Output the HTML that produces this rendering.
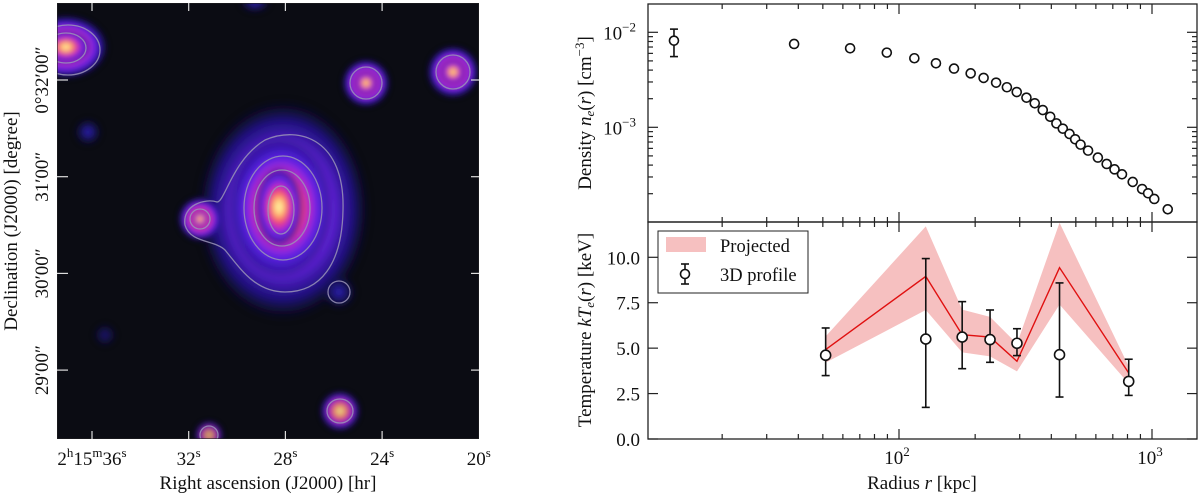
<!DOCTYPE html>
<html><head><meta charset="utf-8">
<style>
html,body{margin:0;padding:0;background:#fff;}
svg{display:block;font-family:"Liberation Serif",serif;}
</style></head>
<body>
<svg id="fig" width="1200" height="496" viewBox="0 0 1200 496">
<defs>
  <radialGradient id="src" cx="50%" cy="50%" r="50%">
    <stop offset="0" stop-color="#fffbb0"/>
    <stop offset="0.14" stop-color="#ffe08a"/>
    <stop offset="0.26" stop-color="#ff9a6a"/>
    <stop offset="0.4" stop-color="#f03d78"/>
    <stop offset="0.55" stop-color="#b52ad0"/>
    <stop offset="0.72" stop-color="#5a22e6"/>
    <stop offset="0.88" stop-color="#2412a0" stop-opacity="0.7"/>
    <stop offset="1" stop-color="#10102a" stop-opacity="0"/>
  </radialGradient>
  <radialGradient id="glow" cx="50%" cy="50%" r="50%">
    <stop offset="0" stop-color="#ff6a70"/>
    <stop offset="0.3" stop-color="#d030c0"/>
    <stop offset="0.55" stop-color="#6a24e8"/>
    <stop offset="0.8" stop-color="#2814b0" stop-opacity="0.7"/>
    <stop offset="1" stop-color="#10102a" stop-opacity="0"/>
  </radialGradient>
  <radialGradient id="faint" cx="50%" cy="50%" r="50%">
    <stop offset="0" stop-color="#3020c0"/>
    <stop offset="0.6" stop-color="#1a1470" stop-opacity="0.6"/>
    <stop offset="1" stop-color="#10102a" stop-opacity="0"/>
  </radialGradient>
  <filter id="soft" x="-20%" y="-20%" width="140%" height="140%"><feGaussianBlur stdDeviation="3"/></filter>
  <clipPath id="imgclip"><rect x="57" y="3" width="422" height="436"/></clipPath>
  <clipPath id="botclip"><rect x="648" y="222" width="549" height="217"/></clipPath>
  <clipPath id="topclip"><rect x="648" y="4" width="549" height="218"/></clipPath>
</defs>

<g clip-path="url(#imgclip)">
  <rect x="57" y="3" width="422" height="436" fill="#0b0c13"/>
  <g filter="url(#soft)">
  <ellipse cx="283" cy="210" rx="88" ry="112" fill="url(#glow)" opacity="0.95"/>
  <ellipse cx="281" cy="208" rx="52" ry="70" fill="url(#src)"/>
  <ellipse cx="279" cy="207" rx="24" ry="40" fill="url(#src)"/>
  <ellipse cx="66" cy="47" rx="42" ry="32" fill="url(#src)"/>
  <ellipse cx="66" cy="47" rx="24" ry="17" fill="url(#src)"/>
  <circle cx="366" cy="83" r="24" fill="url(#src)"/>
  <circle cx="366" cy="83" r="12" fill="url(#src)"/>
  <circle cx="453" cy="72" r="26" fill="url(#src)"/>
  <circle cx="453" cy="72" r="13" fill="url(#src)"/>
  <circle cx="200" cy="219" r="22" fill="url(#src)"/>
  <circle cx="200" cy="219" r="9" fill="url(#src)"/>
  <circle cx="340" cy="411" r="20" fill="url(#src)" opacity="0.9"/>
  <circle cx="209" cy="435" r="14" fill="url(#src)" opacity="0.8"/>
  <circle cx="339" cy="292" r="18" fill="url(#faint)"/>
  <circle cx="88" cy="132" r="14" fill="url(#faint)"/>
  <circle cx="105" cy="335" r="12" fill="url(#faint)" opacity="0.6"/>
  <ellipse cx="255" cy="3" rx="16" ry="10" fill="url(#faint)"/>
  </g>
  <g fill="none" stroke="#9a94b8" stroke-width="1.3" opacity="0.85">
    <path d="M217,202 C225,202 232,160 265,140 C300,125 345,140 343,210 C342,265 320,292 285,292 C255,292 240,268 225,250 C215,240 190,243 185,225 C182,205 205,198 217,202 Z"/>
    <ellipse cx="283" cy="208" rx="39" ry="52"/>
    <ellipse cx="282" cy="208" rx="28" ry="38"/>
    <ellipse cx="281" cy="210" rx="13" ry="24"/>
    <circle cx="339" cy="292" r="11"/>
    <ellipse cx="68" cy="50" rx="32" ry="25"/>
    <ellipse cx="66" cy="48" rx="20" ry="15"/>
    <circle cx="366" cy="83" r="16"/>
    <circle cx="453" cy="72" r="17"/>
    <circle cx="200" cy="219" r="10"/>
    <ellipse cx="340" cy="411" rx="13" ry="12"/>
    <circle cx="209" cy="435" r="9"/>
  </g>
  <rect x="57" y="3" width="422" height="436" fill="none" stroke="#222" stroke-width="1.2"/>
</g>
<g id="leftticks" stroke="#ddd" stroke-width="1.2"></g>
<g id="leftlabels" font-size="19" fill="#111"></g>
<text x="268" y="489" font-size="19" text-anchor="middle" fill="#111">Right ascension (J2000) [hr]</text>
<text transform="translate(17,221) rotate(-90)" font-size="19" text-anchor="middle" fill="#111">Declination (J2000) [degree]</text>

<g id="toppanel"></g>
<g id="botpanel"></g>

<text transform="translate(591,113) rotate(-90)" font-size="19" text-anchor="middle" fill="#111">Density <tspan font-style="italic">n</tspan><tspan font-style="italic" font-size="13" dy="3">e</tspan><tspan dy="-3">(</tspan><tspan font-style="italic">r</tspan>) [cm<tspan font-size="13" dy="-7">−3</tspan><tspan dy="7">]</tspan></text>
<text transform="translate(591,330) rotate(-90)" font-size="19" text-anchor="middle" fill="#111">Temperature <tspan font-style="italic">kT</tspan><tspan font-style="italic" font-size="13" dy="3">e</tspan><tspan dy="-3">(</tspan><tspan font-style="italic">r</tspan>) [keV]</text>
<text x="922" y="489" font-size="19" text-anchor="middle" fill="#111">Radius <tspan font-style="italic">r</tspan> [kpc]</text>

<g id="legend">
  <rect x="658" y="231" width="150" height="62" fill="#fff" stroke="#222" stroke-width="1"/>
  <rect x="666" y="237" width="40" height="15" fill="#f6c0c0"/>
  <text x="720" y="252" font-size="18.5" fill="#111">Projected</text>
  <line x1="685" y1="264" x2="685" y2="284" stroke="#111" stroke-width="1.6"/>
  <line x1="681" y1="264" x2="689" y2="264" stroke="#111" stroke-width="1.6"/>
  <line x1="681" y1="284" x2="689" y2="284" stroke="#111" stroke-width="1.6"/>
  <circle cx="685" cy="274" r="4.5" fill="#fff" stroke="#111" stroke-width="1.6"/>
  <text x="720" y="281" font-size="18.5" fill="#111">3D profile</text>
</g>
</svg>

<script>
// ---- data ----
const densR = [12.9,38.5,64.1,89.5,115,140,165,192,216,242,267,292,319,344,370,396,419,444,472,497,522,559,611,662,711,761,839,914,965,1021,1154];
const densNe = [8.17e-3,7.54e-3,6.79e-3,6.11e-3,5.33e-3,4.72e-3,4.15e-3,3.70e-3,3.31e-3,2.95e-3,2.64e-3,2.35e-3,2.05e-3,1.79e-3,1.52e-3,1.29e-3,1.10e-3,9.68e-4,8.51e-4,7.48e-4,6.57e-4,5.68e-4,4.80e-4,4.11e-4,3.61e-4,3.20e-4,2.66e-4,2.24e-4,2.02e-4,1.76e-4,1.37e-4];
const densHi = [1.08e-2,8.05e-3];
const densLo = [5.55e-3,7.0e-3];
const tempR = [51.3,127.6,177.7,229,292.6,431,809];
const tempT = [4.61,5.50,5.61,5.47,5.27,4.64,3.17];
const tempHi = [6.11,9.93,7.56,7.10,6.07,8.59,4.39];
const tempLo = [3.49,1.74,3.87,4.22,4.59,2.31,2.40];
const projT = [4.92,8.95,5.74,5.61,4.28,9.43,3.63];
const projHi = [5.65,11.7,7.12,6.72,5.24,11.9,4.0];
const projLo = [4.2,7.1,4.77,4.55,3.72,7.4,3.05];
const tempTicks = [0,2.5,5,7.5,10];
const tempTickLabels = ["0.0","2.5","5.0","7.5","10.0"];
const raLabels = ["36","32","28","24","20"];
const decLabels = ["0°32′00″","31′00″","30′00″","29′00″"];

const NS="http://www.w3.org/2000/svg";
function mk(tag, attrs, parent){const e=document.createElementNS(NS,tag);for(const k in attrs)e.setAttribute(k,attrs[k]);parent.appendChild(e);return e;}

const X0=648,X1=1197;
const xs = r => 899 + 253*Math.log10(r/100);
const yTop = v => 32.3 + 95*(-2 - Math.log10(v));
const yBot = t => 439 - 18.17*t;

const topG=document.getElementById('toppanel'), botG=document.getElementById('botpanel');

mk('rect',{x:X0,y:4,width:X1-X0,height:218,fill:'none',stroke:'#222','stroke-width':1.3},topG);
function xTicks(g,y0,y1){
  for(let d=10;d<=1000;d*=10){for(let m=1;m<10;m++){const r=d*m;const x=xs(r);if(x<X0||x>X1)continue;
    const L=(m===1)?10:5;
    mk('line',{x1:x,y1:y0,x2:x,y2:y0+L,stroke:'#222','stroke-width':1.2},g);
    mk('line',{x1:x,y1:y1,x2:x,y2:y1-L,stroke:'#222','stroke-width':1.2},g);}}
}
xTicks(topG,4,222);
for(let e=-4;e<=-2;e++){for(let m=1;m<10;m++){const v=m*Math.pow(10,e);const y=yTop(v);if(y<4||y>222)continue;
  const L=(m===1)?10:5;
  mk('line',{x1:X0,y1:y,x2:X0+L,y2:y,stroke:'#222','stroke-width':1.2},topG);
  mk('line',{x1:X1,y1:y,x2:X1-L,y2:y,stroke:'#222','stroke-width':1.2},topG);}}
[-2,-3].forEach(e=>{const t=mk('text',{x:X0-12,y:yTop(Math.pow(10,e))+7,'font-size':19,'text-anchor':'end',fill:'#111'},topG);
  
  
  t.innerHTML='10<tspan font-size="13" dy="-8">'+(e===-2?'−2':'−3')+'</tspan>';});
const tg=mk('g',{'clip-path':'url(#topclip)'},topG);
densR.forEach((r,i)=>{
  const x=xs(r),y=yTop(densNe[i]);
  if(i<densHi.length){
    mk('line',{x1:x,y1:yTop(densHi[i]),x2:x,y2:yTop(densLo[i]),stroke:'#111','stroke-width':1.6},tg);
    mk('line',{x1:x-4,y1:yTop(densHi[i]),x2:x+4,y2:yTop(densHi[i]),stroke:'#111','stroke-width':1.6},tg);
    mk('line',{x1:x-4,y1:yTop(densLo[i]),x2:x+4,y2:yTop(densLo[i]),stroke:'#111','stroke-width':1.6},tg);
  }
  const c=mk('circle',{cx:x,cy:y,r:4.5,fill:'#fff',stroke:'#111','stroke-width':1.6},tg);
  
  
});

const bg=mk('g',{'clip-path':'url(#botclip)'},botG);
let up='',lo='';
tempR.forEach((r,i)=>{up+=(i?'L':'M')+xs(r)+','+yBot(projHi[i]);});
for(let i=tempR.length-1;i>=0;i--){lo+='L'+xs(tempR[i])+','+yBot(projLo[i]);}
const band=mk('path',{d:up+lo+'Z',fill:'#f6c0c0'},bg);


const pl=mk('polyline',{points:tempR.map((r,i)=>xs(r)+','+yBot(projT[i])).join(' '),fill:'none',stroke:'#e01010','stroke-width':1.4},bg);


tempR.forEach((r,i)=>{
  const x=xs(r);
  mk('line',{x1:x,y1:yBot(tempHi[i]),x2:x,y2:yBot(tempLo[i]),stroke:'#111','stroke-width':1.6},bg);
  mk('line',{x1:x-4,y1:yBot(tempHi[i]),x2:x+4,y2:yBot(tempHi[i]),stroke:'#111','stroke-width':1.6},bg);
  mk('line',{x1:x-4,y1:yBot(tempLo[i]),x2:x+4,y2:yBot(tempLo[i]),stroke:'#111','stroke-width':1.6},bg);
  const c=mk('circle',{cx:x,cy:yBot(tempT[i]),r:5,fill:'#fff',stroke:'#111','stroke-width':1.6},bg);
  
  
});
mk('rect',{x:X0,y:222,width:X1-X0,height:217,fill:'none',stroke:'#222','stroke-width':1.3},botG);
xTicks(botG,222,439);
tempTicks.forEach((t,i)=>{const y=yBot(t);
  mk('line',{x1:X0,y1:y,x2:X0+10,y2:y,stroke:'#222','stroke-width':1.2},botG);
  mk('line',{x1:X1,y1:y,x2:X1-10,y2:y,stroke:'#222','stroke-width':1.2},botG);
  const tx=mk('text',{x:X0-8,y:y+7,'font-size':19,'text-anchor':'end',fill:'#111'},botG);
  
  
  tx.textContent=tempTickLabels[i];});
[100,1000].forEach((r,i)=>{const tx=mk('text',{x:xs(r)-2,y:464,'font-size':19,'text-anchor':'middle',fill:'#111'},botG);
  
  
  tx.innerHTML='10<tspan font-size="13" dy="-8">'+(i?'3':'2')+'</tspan>';});
document.getElementById('fig').appendChild(document.getElementById('legend'));

const lt=document.getElementById('leftticks'), ll=document.getElementById('leftlabels');
const raX = i => 92 + 96.7*i;
const decY = i => 80 + 96.7*i;
raLabels.forEach((s,i)=>{const x=raX(i);
  if(x<478){mk('line',{x1:x,y1:3,x2:x,y2:11},lt);mk('line',{x1:x,y1:439,x2:x,y2:431},lt);}
  const t=mk('text',{x:x,y:465,'text-anchor':'middle'},ll);
  
  
  t.innerHTML = i===0 ? '2<tspan font-size="13" dy="-8">h</tspan><tspan dy="8">15</tspan><tspan font-size="13" dy="-8">m</tspan><tspan dy="8">36</tspan><tspan font-size="13" dy="-8">s</tspan>' : s+'<tspan font-size="13" dy="-8">s</tspan>';});
decLabels.forEach((s,i)=>{const y=decY(i);
  mk('line',{x1:57,y1:y,x2:68,y2:y},lt);mk('line',{x1:479,y1:y,x2:471,y2:y},lt);
  const t=mk('text',{transform:'translate(48,'+y+') rotate(-90)','text-anchor':'middle'},ll);
  
  
  t.textContent=s;});
</script>
</body></html>
